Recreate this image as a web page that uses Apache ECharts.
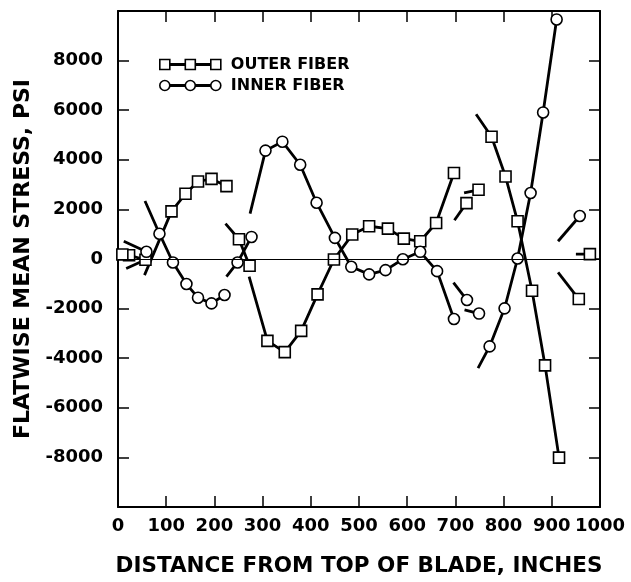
<!DOCTYPE html>
<html>
<head>
<meta charset="utf-8">
<script src="https://cdn.jsdelivr.net/npm/echarts@6/dist/echarts.min.js"></script>
<style>html,body{margin:0;padding:0;background:#fff;}#c{width:631px;height:582px;}</style>
</head>
<body>
<div id="c"></div>
<script>
// ---- Data (x: inches from top of blade, y: psi) ----
// Each segment: a lead-in line end (no marker) followed by plotted points.
const xTicks = [0,100,200,300,400,500,600,700,800,900,1000];
const yTicks = [-8000,-6000,-4000,-2000,0,2000,4000,6000,8000];

const outerLeads = [[17,-380],[55,-650],[223,1425],[272,-715],[698,1560],[718,2670],[743,5840],[913,-540],[950,195]];
const outerSeg1 = [[57,-30],[23,150],[9,180]];
const outerSeg2 = [[111,1920],[140,2630],[166,3125],[194,3230],[225,2940]];
const outerSeg3 = [[251,795],[273,-275]];
const outerSeg4 = [[310,-3300],[346,-3755],[380,-2900],[414,-1425],[448,-20],[486,985],[521,1320],[560,1225],[593,820],[627,715],[660,1450],[697,3470]];
const outerSeg5 = [[723,2255]];
const outerSeg6 = [[748,2790]];
const outerSeg7 = [[775,4930],[804,3325],[829,1520],[859,-1280],[886,-4290],[915,-8010]];
const outerSeg8 = [[956,-1615]];
const outerSeg9 = [[979,195]];
const outerSegs = [outerSeg1,outerSeg2,outerSeg3,outerSeg4,outerSeg5,outerSeg6,outerSeg7,outerSeg8,outerSeg9];

const innerLeads = [[12,715],[56,2340],[225,-715],[274,1830],[696,-955],[719,-2055],[747,-4400],[913,715]];
const innerSeg1 = [[59,290]];
const innerSeg2 = [[86,1020],[114,-140],[142,-1010],[166,-1560],[194,-1790],[221,-1450]];
const innerSeg3 = [[248,-140],[277,890]];
const innerSeg4 = [[306,4370],[341,4730],[378,3800],[412,2270],[450,850],[484,-315],[521,-620],[555,-450],[591,-10],[627,290],[662,-490],[697,-2420]];
const innerSeg5 = [[724,-1655]];
const innerSeg6 = [[749,-2200]];
const innerSeg7 = [[771,-3525],[802,-1990],[829,20],[856,2660],[882,5910],[910,9660]];
const innerSeg8 = [[958,1735]];
const innerSegs = [innerSeg1,innerSeg2,innerSeg3,innerSeg4,innerSeg5,innerSeg6,innerSeg7,innerSeg8];

const legendNames = ['OUTER FIBER','INNER FIBER'];

// ---- Chart ----
const FONT = 'DejaVu Sans';
const markerStyle = {color:'#fff', borderColor:'#000', borderWidth:1.6};
function makeSeries(name, symbol, leads, segs){
  return segs.map((pts,i)=>({
    name: name,
    type: 'line',
    xAxisIndex: 0, yAxisIndex: 0,
    symbol: symbol,
    symbolSize: 11,
    showSymbol: true,
    itemStyle: markerStyle,
    lineStyle: {color:'#000', width:2.8},
    emphasis: {disabled:true},
    z: 3,
    data: [{value: leads[i], symbol:'none'}].concat(pts.map(p=>({value:p})))
  }));
}
const series = [].concat(
  makeSeries(legendNames[0], 'rect', outerLeads, outerSegs),
  makeSeries(legendNames[1], 'circle', innerLeads, innerSegs)
);
series[0].markLine = {
  silent:true, symbol:'none', animation:false,
  label:{show:false},
  lineStyle:{color:'#000', width:1, type:'solid'},
  data:[{yAxis:0}]
};

const axisLine = {show:true, onZero:false, lineStyle:{color:'#000', width:2}};
const axisTick = {show:true, inside:true, length:11, lineStyle:{color:'#000', width:1.5}};
const labelStyle = {color:'#000', fontFamily:FONT, fontWeight:'bold', fontSize:18};

const chart = echarts.init(document.getElementById('c'), null, {renderer:'canvas'});
chart.setOption({
  animation:false,
  backgroundColor:'#fff',
  grid:{left:118, right:31, top:11, bottom:72, containLabel:false},
  xAxis:[
    {type:'value', position:'bottom', min:0, max:1000, interval:100,
     axisLine:axisLine, axisTick:axisTick, splitLine:{show:false},
     axisLabel:Object.assign({margin:10, formatter:v=>xTicks.includes(v)?String(v):''}, labelStyle),
     name:'DISTANCE FROM TOP OF BLADE, INCHES', nameLocation:'middle', nameGap:48,
     nameTextStyle:{color:'#000', fontFamily:FONT, fontWeight:'bold', fontSize:21.5}},
    {type:'value', position:'top', min:0, max:1000, interval:100,
     axisLine:axisLine, axisTick:axisTick, splitLine:{show:false}, axisLabel:{show:false}}
  ],
  yAxis:[
    {type:'value', position:'left', min:-10000, max:10000, interval:2000,
     axisLine:axisLine, axisTick:axisTick, splitLine:{show:false},
     axisLabel:Object.assign({margin:15, formatter:v=>yTicks.includes(v)?String(v):''}, labelStyle),
     name:'FLATWISE MEAN STRESS, PSI', nameLocation:'middle', nameGap:82, nameRotate:90,
     nameTextStyle:{color:'#000', fontFamily:FONT, fontWeight:'bold', fontSize:22}},
    {type:'value', position:'right', min:-10000, max:10000, interval:2000,
     axisLine:axisLine, axisTick:axisTick, splitLine:{show:false}, axisLabel:{show:false}}
  ],
  graphic:[
    {type:'group', left:159, top:57, children:[
      {type:'line', shape:{x1:5,y1:5.5,x2:56,y2:5.5}, style:{stroke:'#000', lineWidth:2.8}},
      {type:'rect', shape:{x:0,y:0.5,width:10,height:10}, style:{fill:'#fff', stroke:'#000', lineWidth:1.6}},
      {type:'rect', shape:{x:25.5,y:0.5,width:10,height:10}, style:{fill:'#fff', stroke:'#000', lineWidth:1.6}},
      {type:'rect', shape:{x:51,y:0.5,width:10,height:10}, style:{fill:'#fff', stroke:'#000', lineWidth:1.6}},
      {type:'text', x:71, y:6, style:{text:legendNames[0], fill:'#000', font:'bold 16px "DejaVu Sans"', verticalAlign:'middle'}},
      {type:'line', shape:{x1:5,y1:26.5,x2:56,y2:26.5}, style:{stroke:'#000', lineWidth:2.8}},
      {type:'circle', shape:{cx:5,cy:26.5,r:5}, style:{fill:'#fff', stroke:'#000', lineWidth:1.6}},
      {type:'circle', shape:{cx:30.5,cy:26.5,r:5}, style:{fill:'#fff', stroke:'#000', lineWidth:1.6}},
      {type:'circle', shape:{cx:56,cy:26.5,r:5}, style:{fill:'#fff', stroke:'#000', lineWidth:1.6}},
      {type:'text', x:71, y:27, style:{text:legendNames[1], fill:'#000', font:'bold 16px "DejaVu Sans"', verticalAlign:'middle'}}
    ]}
  ],
  series: series
});
</script>
</body>
</html>
